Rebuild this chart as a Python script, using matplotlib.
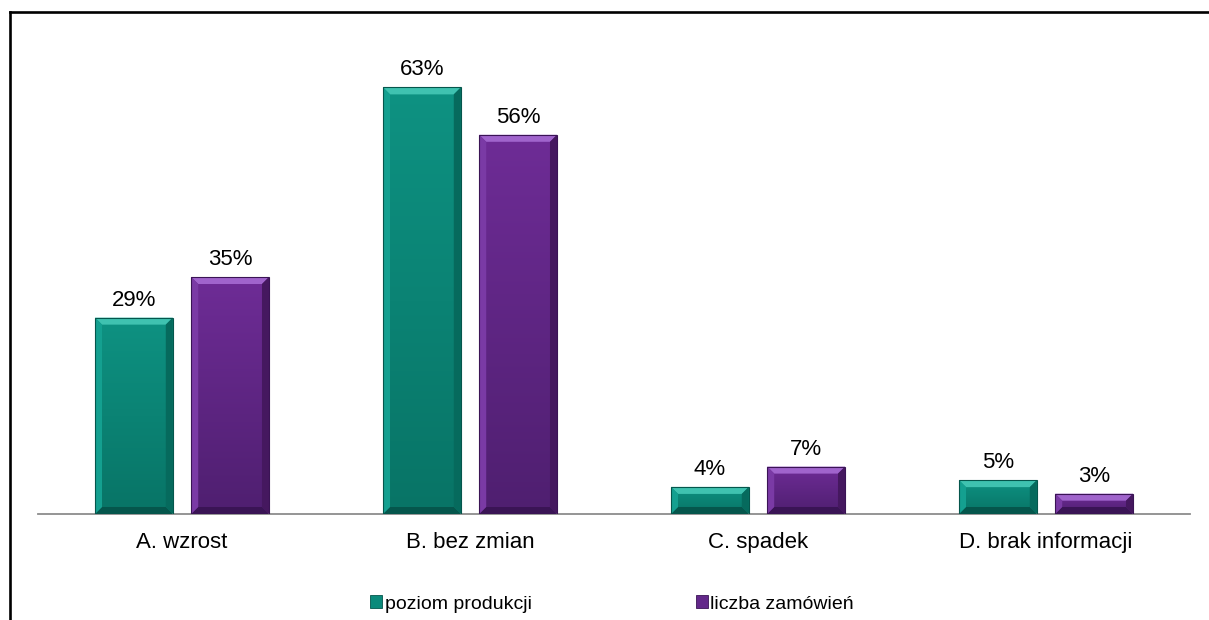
import matplotlib.pyplot as plt
import numpy as np
from matplotlib.patches import Polygon, Patch
from matplotlib.lines import Line2D

plt.rcParams['font.family'] = ['Liberation Sans', 'DejaVu Sans']

categories = ['A. wzrost', 'B. bez zmian', 'C. spadek', 'D. brak informacji']
produkcja = [29, 63, 4, 5]
zamowienia = [35, 56, 7, 3]
series_names = ['poziom produkcji', 'liczba zamówień']

teal = '#0b8a7b'
purple = '#63288a'
teal_light, teal_dark = '#3fc2b0', '#05564c'
purple_light, purple_dark = '#a064cc', '#3a1455'

W, H = 1209, 620
fig = plt.figure(figsize=(W / 100, H / 100), dpi=100)
ax = fig.add_axes([38 / W, 106 / H, 1152 / W, (514 - 40) / H])

x = np.arange(len(categories))
width = 0.27
off = 0.167
ax.set_xlim(-0.5, len(categories) - 0.5)
ax.set_ylim(0, 70)


def gradient_fill(bar, c_top, c_bot):
    x0, y0 = bar.get_x(), bar.get_y()
    w, h = bar.get_width(), bar.get_height()
    ct = np.array(plt.matplotlib.colors.to_rgb(c_top))
    cb = np.array(plt.matplotlib.colors.to_rgb(c_bot))
    t = np.linspace(0, 1, 64)[:, None]
    img = (cb * (1 - t) + ct * t)[:, None, :]
    im = ax.imshow(img, extent=[x0, x0 + w, y0, y0 + h], origin='lower',
                   aspect='auto', zorder=2, interpolation='bilinear')
    im.set_clip_path(bar)


def bevel(bar, light, dark, side_l, side_r):
    x0, y0 = bar.get_x(), bar.get_y()
    w, h = bar.get_width(), bar.get_height()
    # bevel depth of ~7 px in data units
    bx = 7 * (len(categories) / 1152)
    by = 7 * (70 / 474)
    by = min(by, h / 2.2)
    x1, y1 = x0 + w, y0 + h
    ax.add_patch(Polygon([(x0, y1), (x1, y1), (x1 - bx, y1 - by), (x0 + bx, y1 - by)],
                         closed=True, color=light, lw=0, zorder=3))
    ax.add_patch(Polygon([(x0, y0), (x1, y0), (x1 - bx, y0 + by), (x0 + bx, y0 + by)],
                         closed=True, color=dark, lw=0, zorder=3))
    ax.add_patch(Polygon([(x0, y0), (x0, y1), (x0 + bx, y1 - by), (x0 + bx, y0 + by)],
                         closed=True, color=side_l, lw=0, zorder=3))
    ax.add_patch(Polygon([(x1, y0), (x1, y1), (x1 - bx, y1 - by), (x1 - bx, y0 + by)],
                         closed=True, color=side_r, lw=0, zorder=3))
    ax.add_patch(plt.Rectangle((x0, y0), w, h, fill=False, ec=dark, lw=0.8, zorder=4))


bars1 = ax.bar(x - off, produkcja, width, color=teal, zorder=1)
bars2 = ax.bar(x + off, zamowienia, width, color=purple, zorder=1)

for b in bars1:
    gradient_fill(b, '#0e9282', '#087466')
    bevel(b, teal_light, teal_dark, '#14a090', '#066a5d')
for b in bars2:
    gradient_fill(b, '#6e2c96', '#4f1f70')
    bevel(b, purple_light, purple_dark, '#7a3aa5', '#45185f')

for bars, vals in ((bars1, produkcja), (bars2, zamowienia)):
    for b, v in zip(bars, vals):
        ax.annotate(f'{v}%', (b.get_x() + b.get_width() / 2, v),
                    xytext=(0, 5), textcoords='offset points',
                    ha='center', va='bottom', fontsize=16)

for s in ['top', 'right', 'left']:
    ax.spines[s].set_visible(False)
ax.spines['bottom'].set_color('#8c8c8c')
ax.spines['bottom'].set_linewidth(1.3)
ax.set_yticks([])
ax.set_xticks(x)
ax.set_xticklabels(categories, fontsize=16)
ax.tick_params(axis='x', length=0, pad=13)

handles = [Patch(facecolor=teal, edgecolor=teal_dark, lw=0.6),
           Patch(facecolor=purple, edgecolor=purple_dark, lw=0.6)]
fig.legend(handles, series_names, loc='center', bbox_to_anchor=(612 / W, 1 - 604 / H),
           ncol=2, frameon=False, fontsize=14, handlelength=0.6, handleheight=0.6,
           handletextpad=0.15, columnspacing=8.45)

# outer frame: top and left edges
fig.add_artist(Line2D([9.5 / W, 1], [1 - 11.5 / H, 1 - 11.5 / H], color='black', lw=1.9))
fig.add_artist(Line2D([9.5 / W, 9.5 / W], [0, 1 - 11.5 / H], color='black', lw=1.9))

fig.savefig('out.png', dpi=100)
